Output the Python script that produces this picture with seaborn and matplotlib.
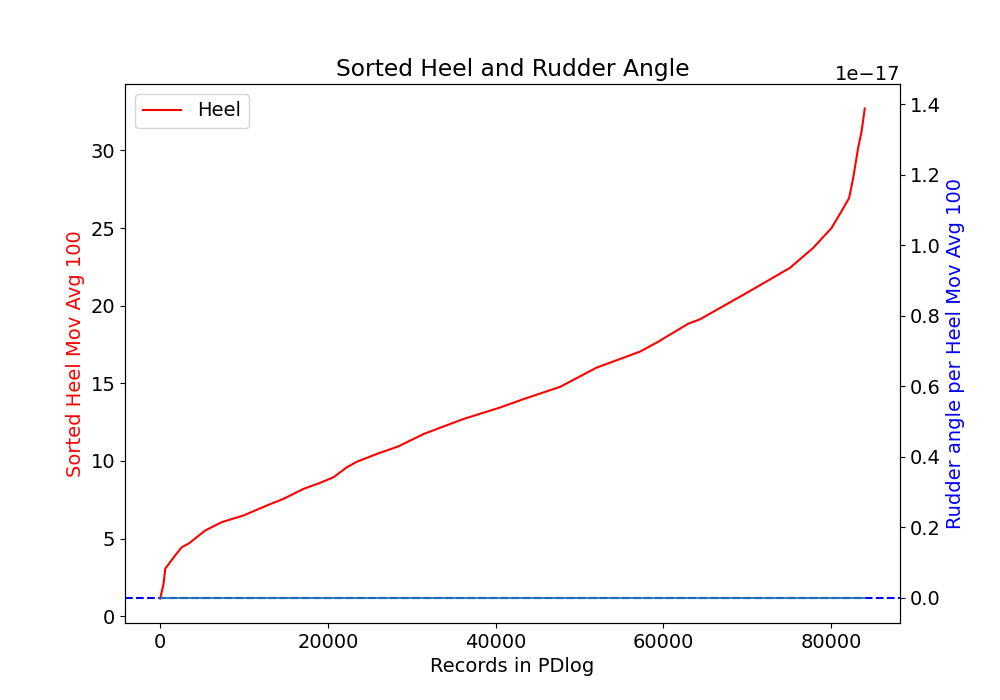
import matplotlib
matplotlib.use("Agg")
import matplotlib.pyplot as plt
import seaborn as sns
import pandas as pd

records = [0, 400, 600, 1190, 1790, 2580, 3380, 5370, 7350, 9940, 12720, 14710,
           15900, 17090, 19080, 20670, 22260, 23450, 25840, 28420, 31400, 36160,
           40540, 43320, 47690, 52060, 57230, 59220, 62990, 64380, 70340, 75110,
           77890, 80080, 81270, 82180, 82660, 83250, 83660, 84050]
heel = [1.14, 2.1, 3.06, 3.49, 3.92, 4.45, 4.67, 5.52, 6.06, 6.49, 7.13, 7.56,
        7.88, 8.2, 8.59, 8.95, 9.59, 9.95, 10.45, 10.94, 11.73, 12.7,
        13.44, 13.98, 14.77, 16.01, 17.04, 17.62, 18.84, 19.12, 20.94, 22.43,
        23.72, 25.0, 26.08, 26.93, 28.2, 30.14, 31.2, 32.7]

rudder_records = [0, 84050]
rudder = [0.0, 0.0]

plt.rcParams['font.size'] = 14

df = pd.DataFrame({"Records": records, "Heel": heel})
dr = pd.DataFrame({"Records": rudder_records, "Rudder": rudder})

fig, ax = plt.subplots(figsize=(10, 7), dpi=100)
sns.lineplot(data=df, x="Records", y="Heel", ax=ax, color="red", label="Heel",
             sort=False, linewidth=1.5)
ax.set_xlabel("Records in PDlog")
ax.set_ylabel("Sorted Heel Mov Avg 100", color="red")
ax.legend(loc="upper left")
ax.set_title("Sorted Heel and Rudder Angle", fontsize="large")

ax2 = ax.twinx()
ax2.axhline(0, color="b", linestyle="--")
sns.lineplot(data=dr, x="Records", y="Rudder", ax=ax2, color="C0", linewidth=1.5,
             alpha=0.9)
ax2.set_ylim(-0.0709e-17, 1.4567e-17)
ax2.set_ylabel("Rudder angle per Heel Mov Avg 100", color="b")
ax2.set_xlabel("Records in PDlog")

fig.savefig("out.png", dpi=100)
